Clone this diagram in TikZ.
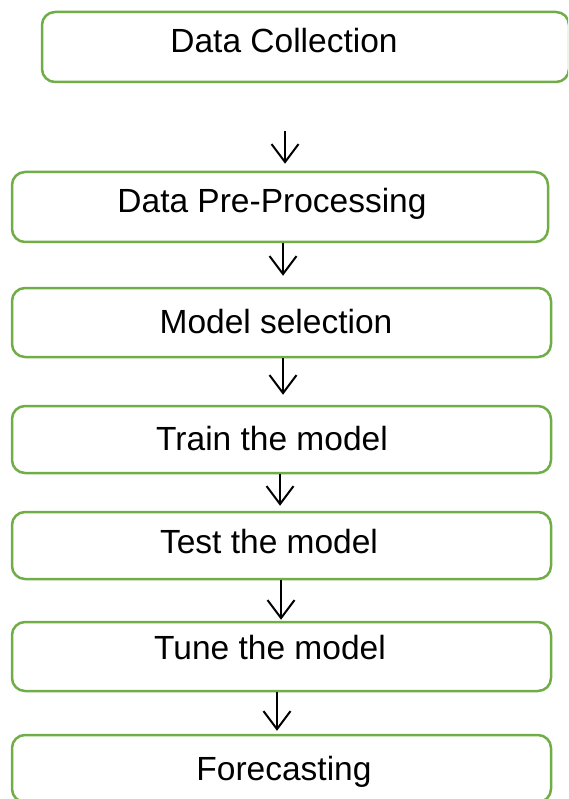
\documentclass[tikz,border=0pt]{standalone}
\usepackage{fontspec}
\setmainfont{Liberation Sans}
\usetikzlibrary{arrows.meta}
\definecolor{boxgreen}{RGB}{112,173,71}
\begin{document}
\begin{tikzpicture}[x=1pt,y=-1pt,
  stepbox/.style={draw=boxgreen, line width=2.5pt, rounded corners=13pt,
    rectangle, inner sep=0pt, text height=24pt,
    font=\fontsize{33.5}{40}\selectfont},
  flowarrow/.style={draw=black, line width=2pt,
    -{Straight Barb[length=18pt,width=27pt,line width=2pt]}}]
\clip (0,0) rectangle (568,799);
\node[stepbox, minimum width=527pt, minimum height=70pt, text depth=12pt] (b1) at (305.5,47) {\hspace*{-43pt}Data Collection};
\node[stepbox, minimum width=536pt, minimum height=70pt, text depth=12pt] (b2) at (280,207) {\hspace*{-16pt}Data Pre-Processing};
\node[stepbox, minimum width=539pt, minimum height=69pt, text depth=3pt] (b3) at (281.5,322.5) {\hspace*{-11pt}Model selection};
\node[stepbox, minimum width=539pt, minimum height=67pt, text depth=3pt] (b4) at (281.5,439.5) {\hspace*{-19pt}Train the model};
\node[stepbox, minimum width=539pt, minimum height=67pt, text depth=9pt] (b5) at (281.5,545.5) {\hspace*{-25pt}Test the model};
\node[stepbox, minimum width=539pt, minimum height=69pt, text depth=19pt] (b6) at (281.5,656.5) {\hspace*{-23pt}Tune the model};
\node[stepbox, minimum width=539pt, minimum height=67pt, text depth=1pt] (b7) at (281.5,768.5) {\hspace*{5pt}Forecasting};
\coordinate (x1) at (285,0);
\coordinate (x2) at (283,0);
\coordinate (x3) at (283,0);
\coordinate (x4) at (280,0);
\coordinate (x5) at (281,0);
\coordinate (x6) at (277,0);
\draw[flowarrow, shorten <=48pt, shorten >=7pt] (b1.south -| x1) -- (b2.north -| x1);
\draw[flowarrow, shorten >=11pt] (b2.south -| x2) -- (b3.north -| x2);
\draw[flowarrow, shorten >=10pt] (b3.south -| x3) -- (b4.north -| x3);
\draw[flowarrow, shorten >=5pt] (b4.south -| x4) -- (b5.north -| x4);
\draw[flowarrow, shorten >=1pt] (b5.south -| x5) -- (b6.north -| x5);
\draw[flowarrow, shorten >=3pt] (b6.south -| x6) -- (b7.north -| x6);
\end{tikzpicture}
\end{document}
